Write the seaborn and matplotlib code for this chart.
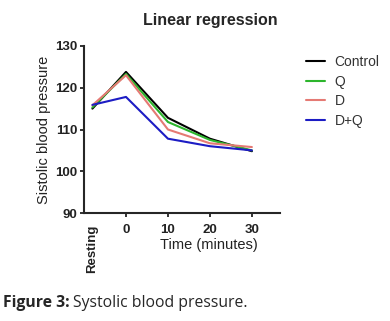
import matplotlib
matplotlib.use("Agg")
import matplotlib.pyplot as plt
import seaborn as sns
import pandas as pd

times = [-8, 0, 10, 20, 30]
tick_labels = ["Resting", "0", "10", "20", "30"]
groups = ["Control", "Q", "D", "D+Q"]
control = [115, 123.8, 112.8, 107.8, 104.8]
q_vals = [115.3, 123.3, 111.8, 107.5, 105.0]
d_vals = [115.8, 123.0, 110.0, 106.7, 105.8]
dq_vals = [115.9, 117.8, 107.8, 106.0, 105.0]
colors = ["#000000", "#2db52d", "#e57a74", "#1c1cc4"]

rows = []
for g, vals in zip(groups, [control, q_vals, d_vals, dq_vals]):
    for t, v in zip(times, vals):
        rows.append({"time": t, "bp": v, "group": g})
df = pd.DataFrame(rows)

sns.set_style("ticks")
plt.rcParams["font.family"] = ["Liberation Sans", "DejaVu Sans"]

fig = plt.figure(figsize=(3.9, 3.21), dpi=100)
ax = fig.add_axes([0.2154, 0.3364, 0.5026, 0.5203])
sns.lineplot(data=df, x="time", y="bp", hue="group", palette=colors,
             hue_order=groups, linewidth=1.5, ax=ax, legend=True)

ax.set_xlim(-10, 36.7)
ax.set_ylim(90, 130)
ax.set_yticks([90, 100, 110, 120, 130])
ax.set_xticks(times)
ax.set_xticklabels(tick_labels, fontweight="bold", fontsize=9.5)
for lbl in ax.get_yticklabels():
    lbl.set_fontweight("bold")
    lbl.set_fontsize(9.5)
ax.get_xticklabels()[0].set_rotation(90)
ax.xaxis.get_major_ticks()[0].tick1line.set_visible(False)
for s in ["top", "right"]:
    ax.spines[s].set_visible(False)
for s in ["left", "bottom"]:
    ax.spines[s].set_linewidth(1.5)
ax.tick_params(width=1.3, length=3, colors="#222222")
ax.tick_params(axis="x", pad=5)
ax.tick_params(axis="y", pad=2)

ax.set_xlabel("Time (minutes)", fontsize=10.5, color="#222222")
ax.xaxis.set_label_coords(0.638, -0.15)
ax.set_ylabel("Sistolic blood pressure", fontsize=10.5, color="#222222")
ax.yaxis.set_label_coords(-0.17, 0.5)

fig.text(210 / 390, 1 - 20 / 321, "Linear regression", fontweight="bold",
         fontsize=11.5, ha="center", va="center")

leg = ax.legend(frameon=False, loc="upper left",
                bbox_to_anchor=(306 / 390, 1 - 55 / 321),
                bbox_transform=fig.transFigure,
                fontsize=10, handlelength=1.4, handletextpad=0.65,
                labelspacing=0.4, borderpad=0, borderaxespad=0)
for t in leg.get_texts():
    t.set_color("#333333")

fig.text(0.008, 0.045, "Figure 3:", fontweight="bold", fontsize=11.3,
         family=["Open Sans", "DejaVu Sans"])
fig.text(0.187, 0.045, "Systolic blood pressure.", fontsize=11.3,
         family=["Open Sans", "DejaVu Sans"])

fig.savefig("out.png", dpi=100)
